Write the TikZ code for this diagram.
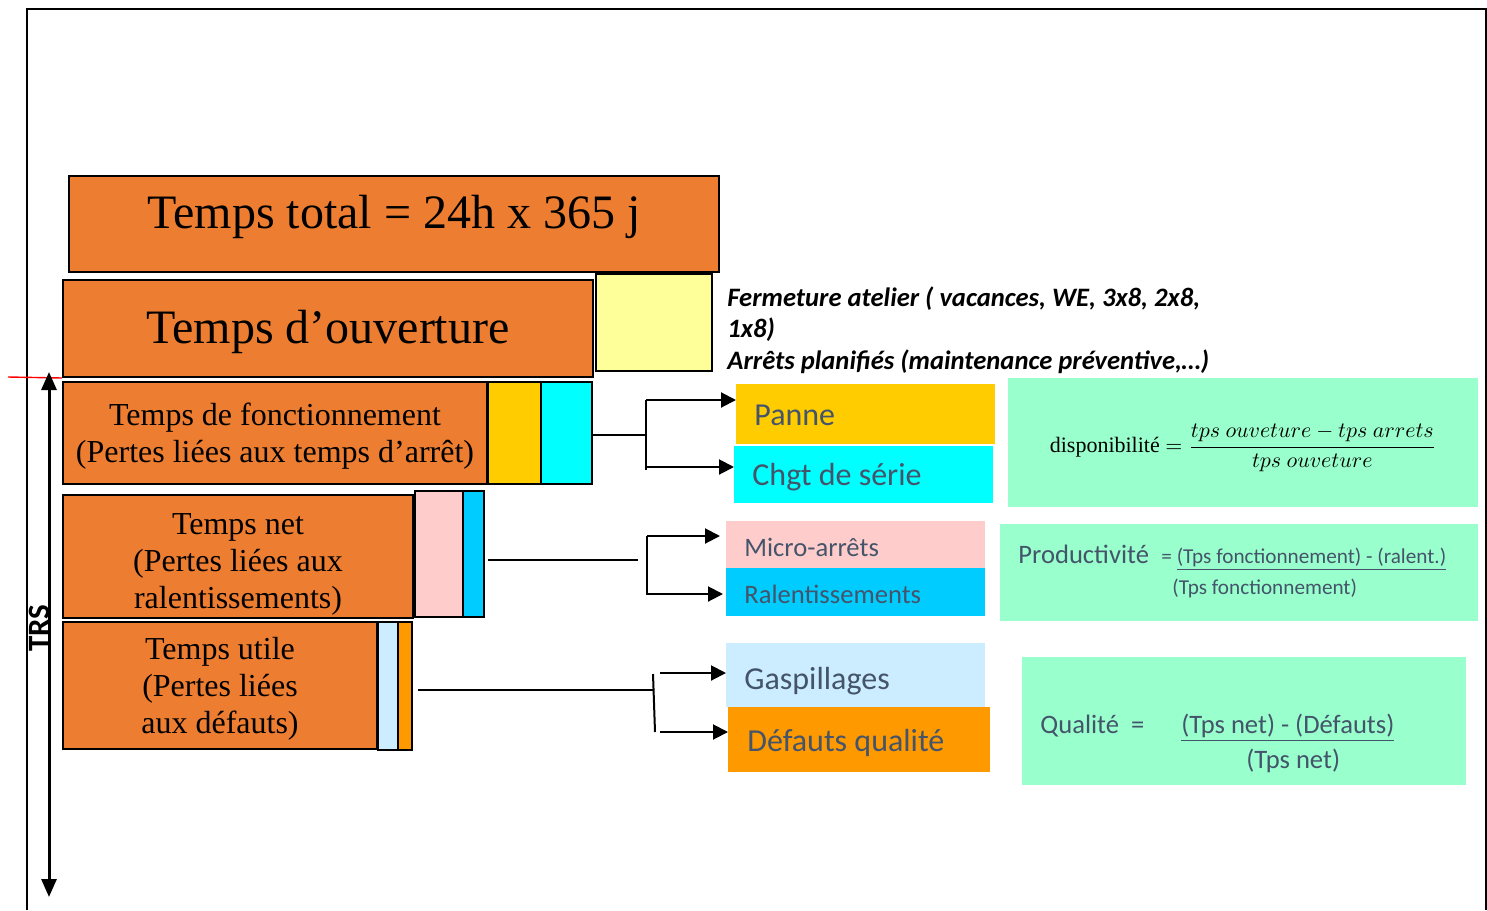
\documentclass[tikz,border=0pt]{standalone}
\usepackage{fontspec}
\setmainfont{Liberation Serif}
\newfontfamily\calibri{Carlito}
\usetikzlibrary{arrows.meta}
\definecolor{orangeA}{HTML}{ED7D31}
\definecolor{yellowA}{HTML}{FFFF99}
\definecolor{goldA}{HTML}{FFCC00}
\definecolor{cyanA}{HTML}{00FFFF}
\definecolor{pinkA}{HTML}{FFCCCC}
\definecolor{blueA}{HTML}{00CCFF}
\definecolor{lblueA}{HTML}{CCECFF}
\definecolor{orangeB}{HTML}{FF9900}
\definecolor{mintA}{HTML}{99FFCC}
\definecolor{slate}{HTML}{44546A}
\begin{document}
\begin{tikzpicture}[x=0.5pt,y=-0.5pt,
  obox/.style={draw=black, line width=1pt, fill=orangeA, inner sep=0pt},
  otext/.style={inner sep=0pt, align=center, font=\fontsize{16}{18.5}\selectfont},
  bigtxt/.style={inner sep=0pt, font=\fontsize{24}{28}\selectfont},
  sbox/.style={draw=black, line width=1pt, inner sep=0pt},
  catbox/.style={inner sep=0pt, minimum width=129.5pt},
  cattext/.style={inner sep=0pt, text=slate, anchor=base west, font=\calibri\fontsize{16}{19}\selectfont},
  catsmall/.style={font=\calibri\fontsize{13.3}{16}\selectfont},
  fbox/.style={fill=mintA, inner sep=0pt},
  ftext/.style={inner sep=0pt, text=slate, anchor=base west, font=\calibri\fontsize{13.3}{16}\selectfont},
  fsmall/.style={font=\calibri\fontsize{10.6}{13}\selectfont},
  note/.style={inner sep=0pt, anchor=base west, font=\calibri\bfseries\itshape\fontsize{13.3}{16}\selectfont},
  conn/.style={line width=1pt},
  arr/.style={conn, -{Triangle[length=7.5pt,width=7.5pt]}},
  dblarr/.style={line width=1.5pt, {Triangle[length=9pt,width=7.5pt]}-{Triangle[length=9pt,width=7.5pt]}}
]
\useasboundingbox (0,0) rectangle (1487,910);

% frame
\draw[line width=1pt] (27,910) -- (27,9) -- (1486,9) -- (1486,910);

% stacked time boxes
\node[obox, minimum width=325pt, minimum height=48pt] (total) at (394,224) {};
\node[bigtxt] (totalT) at (394,217) {Temps total = 24h x 365 j};
\node[obox, minimum width=265pt, minimum height=48.5pt] (ouv) at (328,328.5) {};
\node[bigtxt] (ouvT) at (328,332) {Temps d’ouverture};
\node[sbox, fill=yellowA, line width=0.6pt, minimum width=58pt, minimum height=48.5pt] (plan) at (654,322.5) {};

\node[obox, minimum width=212pt, minimum height=51pt] (fonct) at (275,433) {};
\node[otext] (fonctT) at (275,436) {Temps de fonctionnement\\(Pertes liées aux temps d’arrêt)};
\node[sbox, fill=goldA, minimum width=26.5pt, minimum height=51pt] (panneBar) at (514.5,433) {};
\node[sbox, fill=cyanA, minimum width=25.5pt, minimum height=51pt] (chgtBar) at (566.5,433) {};

\node[obox, minimum width=175pt, minimum height=61.5pt] (net) at (238,556.5) {};
\node[otext] (netT) at (238,564.5) {Temps net\\(Pertes liées aux\\ralentissements)};
\node[sbox, fill=pinkA, minimum width=24pt, minimum height=63pt] (microBar) at (439,554) {};
\node[sbox, fill=blueA, minimum width=10.5pt, minimum height=63pt] (ralBar) at (473.5,554) {};

\node[obox, line width=0.6pt, minimum width=157pt, minimum height=63.5pt] (utile) at (220,685.5) {};
\node[otext] (utileT) at (220,688.5) {Temps utile\\(Pertes liées\\aux défauts)};
\node[sbox, fill=lblueA, minimum width=10pt, minimum height=64pt] (gaspBar) at (388,686) {};
\node[sbox, fill=orangeB, minimum width=7pt, minimum height=64pt] (defBar) at (405,686) {};

% notes
\node[note] (f1) at (727,306) {Fermeture atelier ( vacances, WE, 3x8, 2x8,};
\node[note] (f2) at (727,337) {1x8)};
\node[note] (f3) at (727,369) {Arrêts planifiés (maintenance préventive,…)};

% TRS
\draw[red, line width=0.7pt] (8,377) -- (ouv.south west);
\coordinate (trsTop) at (49,372);
\coordinate (trsBot) at (49,897);
\draw[dblarr] (trsTop) -- (trsBot);
\node[rotate=90, inner sep=0pt, font=\calibri\bfseries\fontsize{15.5}{18}\selectfont] (trs) at (39,628) {TRS};

% categories
\node[catbox, fill=goldA, anchor=north west, minimum height=30pt] (panne) at (736,384) {};
\node[cattext] (panneT) at (754,425) {Panne};
\node[catbox, fill=cyanA, anchor=north west, minimum height=28.5pt] (chgt) at (734,446) {};
\node[cattext] (chgtT) at (752,485) {Chgt de série};
\node[catbox, fill=pinkA, anchor=north west, minimum height=23.5pt] (micro) at (726,521) {};
\node[cattext, catsmall] (microT) at (744,556) {Micro-arrêts};
\node[catbox, fill=blueA, anchor=north west, minimum height=24pt] (ralent) at (726,568) {};
\node[cattext, catsmall] (ralentT) at (744,603) {Ralentissements};
\node[catbox, fill=lblueA, anchor=north west, minimum height=32pt] (gasp) at (726,643) {};
\node[cattext] (gaspT) at (744,689) {Gaspillages};
\node[catbox, fill=orangeB, anchor=north west, minimum width=131pt, minimum height=32.5pt] (defauts) at (728,707) {};
\node[cattext] (defautsT) at (747,751) {Défauts qualité};

% connectors 1
\coordinate (j1) at (646,435);
\coordinate (j1t) at (646,400);
\coordinate (j1b) at (646,470);
\coordinate (j1c) at (646,467);
\draw[conn] (chgtBar.east |- j1) -- (j1);
\draw[conn] (j1t) -- (j1b);
\draw[arr] (j1t) -- (j1t -| panne.west);
\draw[arr] (j1c) -- (j1c -| chgt.west);

% connectors 2
\coordinate (j2s) at (488,560);
\coordinate (j2e) at (638,560);
\coordinate (j2t) at (647,536);
\coordinate (j2b) at (647,595);
\coordinate (j2c) at (647,594);
\coordinate (j2ta) at (720,536);
\coordinate (j2ba) at (723,594);
\draw[conn] (j2s) -- (j2e);
\draw[conn] (j2t) -- (j2b);
\draw[arr] (j2t) -- (j2ta);
\draw[arr] (j2c) -- (j2ba);

% connectors 3
\coordinate (j3s) at (418,690);
\coordinate (j3e) at (653,690);
\coordinate (j3t) at (653,674);
\coordinate (j3b) at (655,732);
\coordinate (j3a) at (660,673);
\coordinate (j3c) at (660,732);
\draw[conn] (j3s) -- (j3e);
\draw[conn] (j3t) -- (j3b);
\draw[arr] (j3a) -- (j3a -| gasp.west);
\draw[arr] (j3c) -- (j3c -| defauts.west);

% formula boxes
\node[fbox, minimum width=235pt, minimum height=64.5pt] (dispo) at (1243,442.5) {};
\node[inner sep=0pt, font=\fontsize{11}{13}\selectfont] (dispoF) at (1243,448)
  {disponibilité $=\displaystyle\frac{tps\ ouveture - tps\ arrets}{tps\ ouveture}$};

\node[fbox, minimum width=239pt, minimum height=48.5pt] (prod) at (1239,572.5) {};
\node[ftext] (prodL) at (1018,563) {Productivité};
\node[ftext, fsmall] (prodN) at (1161,563) {= \underline{(Tps fonctionnement) - (ralent.)}};
\node[ftext, fsmall] (prodD) at (1172,594) {(Tps fonctionnement)};

\node[fbox, minimum width=222pt, minimum height=64pt] (qual) at (1244,721) {};
\node[ftext] (qualL) at (1040,733) {Qualité\ \ =};
\node[ftext] (qualN) at (1181,733) {\underline{(Tps net) - (Défauts)}};
\node[ftext] (qualD) at (1246,768) {(Tps net)};
\end{tikzpicture}
\end{document}
